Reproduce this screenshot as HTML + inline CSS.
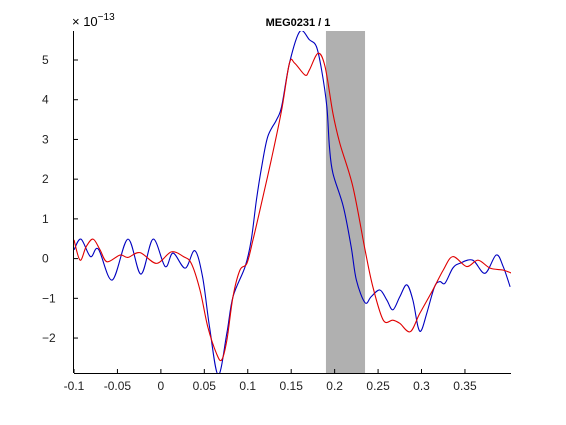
<!DOCTYPE html>
<html><head><meta charset="utf-8"><style>
html,body{margin:0;padding:0;background:#fff;}
svg text{font-family:"Liberation Sans",sans-serif;}
</style></head><body>
<svg id="chart" width="566" height="420" xmlns="http://www.w3.org/2000/svg">
<defs><clipPath id="clip"><rect x="74" y="31" width="437" height="342"/></clipPath></defs>
<text x="298" y="26" font-size="11" font-weight="bold" text-anchor="middle">MEG0231 / 1</text>
<text x="72" y="26" font-size="13">× 10<tspan dy="-6" font-size="10">−13</tspan></text>
<g id="plot"></g>
</svg>
<script>
const xTicks=[-0.1,-0.05,0,0.05,0.1,0.15,0.2,0.25,0.3,0.35];
const xTickLabels=['-0.1','-0.05','0','0.05','0.1','0.15','0.2','0.25','0.3','0.35'];
const yTicks=[-2,-1,0,1,2,3,4,5];
const yTickLabels=['−2','−1','0','1','2','3','4','5'];
const xDomain=[-0.1,0.403];
const yDomain=[-2.88,5.73];
const bandRange=[0.190,0.235];
const blueT=[-0.100,-0.092,-0.081,-0.072,-0.056,-0.038,-0.023,-0.009,0.005,0.014,0.028,0.039,0.048,0.056,0.066,0.076,0.083,0.097,0.104,0.110,0.116,0.123,0.133,0.139,0.148,0.160,0.171,0.179,0.185,0.191,0.194,0.198,0.210,0.219,0.225,0.235,0.242,0.252,0.260,0.267,0.275,0.283,0.290,0.296,0.300,0.306,0.315,0.321,0.327,0.336,0.344,0.359,0.373,0.386,0.394,0.402];
const blueV=[0.22,0.49,0.05,0.24,-0.54,0.49,-0.39,0.49,-0.20,0.14,-0.24,0.20,-0.46,-1.72,-2.93,-1.87,-0.96,-0.20,0.47,1.48,2.31,3.07,3.49,3.83,4.92,5.72,5.51,5.34,4.75,3.83,2.82,2.15,1.31,0.30,-0.54,-1.11,-0.96,-0.79,-1.04,-1.29,-0.96,-0.66,-1.04,-1.72,-1.80,-1.38,-0.71,-0.58,-0.62,-0.24,-0.12,-0.04,-0.37,0.09,-0.20,-0.71];
const redT=[-0.100,-0.093,-0.086,-0.078,-0.070,-0.062,-0.047,-0.038,-0.024,-0.005,0.012,0.026,0.035,0.045,0.054,0.064,0.070,0.076,0.083,0.091,0.099,0.106,0.114,0.127,0.139,0.148,0.154,0.166,0.171,0.181,0.189,0.198,0.206,0.221,0.235,0.244,0.256,0.267,0.275,0.287,0.298,0.313,0.325,0.336,0.352,0.365,0.379,0.394,0.404];
const redV=[0.47,-0.04,0.30,0.49,0.22,-0.08,0.09,0.03,0.15,-0.12,0.17,0.05,-0.12,-0.79,-1.72,-2.39,-2.55,-2.05,-0.96,-0.29,-0.12,0.47,1.22,2.48,3.74,4.92,4.92,4.62,4.75,5.17,4.83,3.66,2.90,1.81,0.22,-0.71,-1.55,-1.55,-1.63,-1.84,-1.38,-0.79,-0.29,0.05,-0.20,-0.04,-0.24,-0.29,-0.37];

const L=74,R=511,T=31,B=373;
const sx=v=>L+(v-xDomain[0])/(xDomain[1]-xDomain[0])*(R-L);
const sy=v=>B-(v-yDomain[0])/(yDomain[1]-yDomain[0])*(B-T);
const NS='http://www.w3.org/2000/svg';
const g=document.getElementById('plot');
function mk(tag,attrs){const e=document.createElementNS(NS,tag);for(const k in attrs)e.setAttribute(k,attrs[k]);return e;}

const band=mk('rect',{x:sx(bandRange[0]),y:T,width:sx(bandRange[1])-sx(bandRange[0]),height:B-T,fill:'#b0b0b0'});


g.appendChild(band);

function pathFor(ts,vs){
  const p=ts.map((t,i)=>[sx(t),sy(vs[i])]);
  let d='M'+p[0][0].toFixed(2)+','+p[0][1].toFixed(2);
  for(let i=0;i<p.length-1;i++){
    const p0=p[Math.max(0,i-1)],p1=p[i],p2=p[i+1],p3=p[Math.min(p.length-1,i+2)];
    const c1=[p1[0]+(p2[0]-p0[0])/6,p1[1]+(p2[1]-p0[1])/6];
    const c2=[p2[0]-(p3[0]-p1[0])/6,p2[1]-(p3[1]-p1[1])/6];
    d+=' C'+c1.map(v=>v.toFixed(2)).join(',')+' '+c2.map(v=>v.toFixed(2)).join(',')+' '+p2.map(v=>v.toFixed(2)).join(',');
  }
  return d;
}
const blue=mk('path',{d:pathFor(blueT,blueV),fill:'none',stroke:'#0000c0','stroke-width':1.1,'clip-path':'url(#clip)'});


g.appendChild(blue);
const red=mk('path',{d:pathFor(redT,redV),fill:'none',stroke:'#e00000','stroke-width':1.1,'clip-path':'url(#clip)'});


g.appendChild(red);

const xa=mk('line',{x1:L,y1:B+0.5,x2:R,y2:B+0.5,stroke:'#000','stroke-width':1});


g.appendChild(xa);
const ya=mk('line',{x1:L-0.5,y1:T,x2:L-0.5,y2:B,stroke:'#000','stroke-width':1});


g.appendChild(ya);

xTicks.forEach((t,i)=>{
  const x=sx(t);
  const tk=mk('line',{x1:x,y1:B,x2:x,y2:B-4,stroke:'#000','stroke-width':1});
  
  
  g.appendChild(tk);
  const tx=mk('text',{x:x,y:B+17,'font-size':12,'text-anchor':'middle',fill:'#222'});
  tx.textContent=xTickLabels[i];
  
  
  g.appendChild(tx);
});
yTicks.forEach((t,i)=>{
  const y=sy(t);
  const tk=mk('line',{x1:L,y1:y,x2:L+4,y2:y,stroke:'#000','stroke-width':1});
  
  
  g.appendChild(tk);
  const tx=mk('text',{x:L-32,y:y+4,'font-size':12,'text-anchor':'start',fill:'#222'});
  tx.textContent=yTickLabels[i];
  
  
  g.appendChild(tx);
});
</script>
</body></html>
